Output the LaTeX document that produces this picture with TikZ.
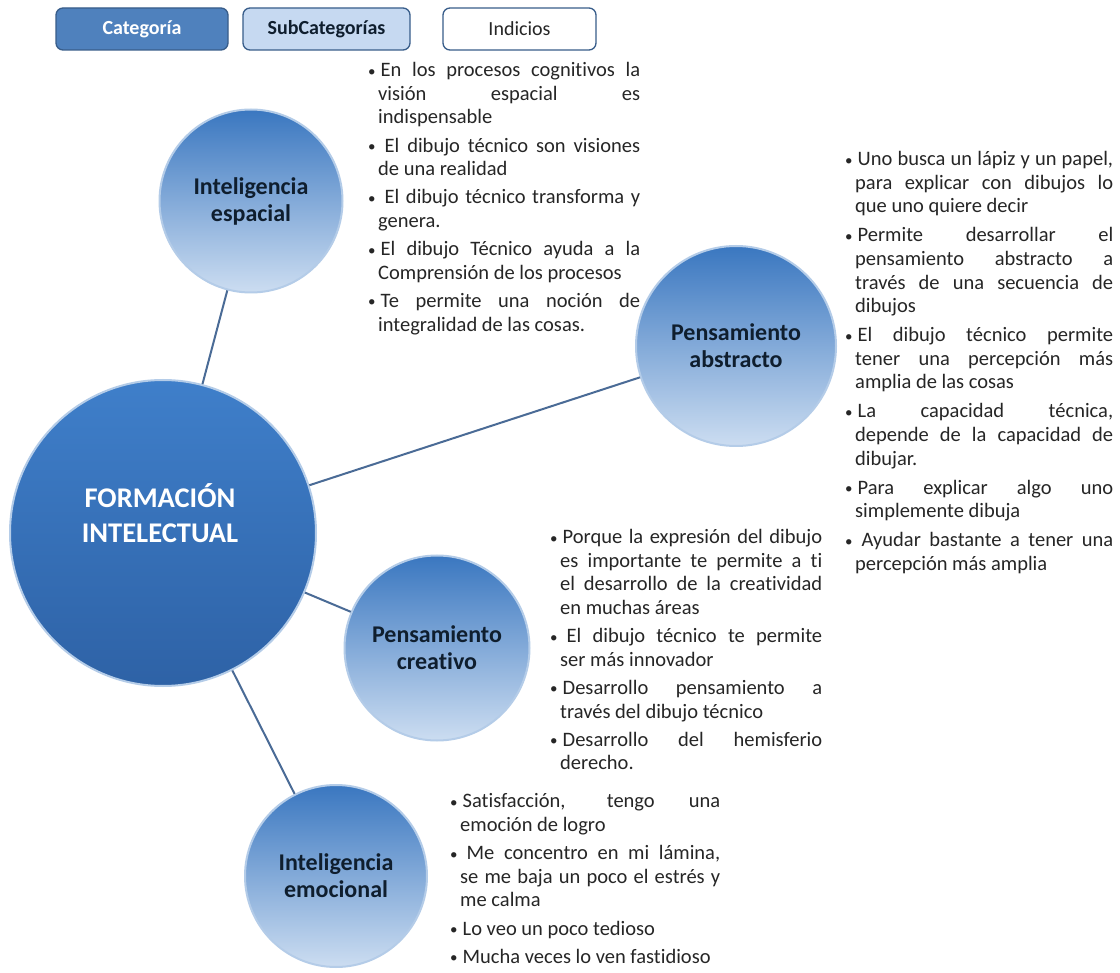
\documentclass[tikz,border=0pt]{standalone}
\usepackage{fontspec}
\setmainfont{Carlito}[Ligatures=NoCommon]
\definecolor{catfill}{HTML}{4F81BD}
\definecolor{catdraw}{HTML}{385D8A}
\definecolor{subfill}{HTML}{C6D9F1}
\definecolor{linecol}{HTML}{4A6B96}
\definecolor{txtcol}{HTML}{262626}
\definecolor{circtop}{HTML}{3A77C0}
\definecolor{circbot}{HTML}{CCDDF1}
\definecolor{maintop}{HTML}{3F7FCA}
\definecolor{mainbot}{HTML}{2E62A6}
\definecolor{rimcol}{HTML}{B4CCE8}
\definecolor{navytxt}{HTML}{0F1E2E}
\newenvironment{bulletlist}[1][4.6pt]{\begin{list}{\raisebox{0.6pt}{\fontsize{15}{15}\selectfont\textbullet}}{\setlength\leftmargin{10pt}\setlength\labelwidth{5pt}\setlength\labelsep{5pt}\setlength\itemsep{#1}\setlength\parsep{0pt}\setlength\topsep{0pt}\setlength\partopsep{0pt}\setlength\itemindent{0pt}}\tolerance=10000 \hyphenpenalty=10000 \exhyphenpenalty=10000}{\end{list}}
\begin{document}
\begin{tikzpicture}[x=1pt,y=-1pt,
  legbox/.style={draw=catdraw, line width=1.3pt, rounded corners=7pt, minimum height=42pt, inner sep=0pt, font=\fontsize{20}{23}\selectfont},
  subcirc/.style={circle, inner sep=0pt, top color=circtop, bottom color=circbot, draw=rimcol, line width=2pt, text=navytxt, font=\bfseries\fontsize{24}{27}\selectfont, align=center},
  maincirc/.style={circle, inner sep=0pt, top color=maintop, bottom color=mainbot, draw=rimcol, line width=2pt},
  conn/.style={draw=linecol, line width=2pt},
  block/.style={anchor=north west, inner sep=0pt, text=txtcol, align=justify, font=\fontsize{20.5}{23.6}\selectfont}
]
\useasboundingbox (0,0) rectangle (1120,973);
\fill[white] (0,0) rectangle (1120,973);

% legend
\node[legbox, fill=catfill, text=white, minimum width=172pt, font=\bfseries\fontsize{20}{23}\selectfont] (cat) at (142,29) {Categoría};
\node[legbox, fill=subfill, text=navytxt, minimum width=167pt, font=\bfseries\fontsize{20}{23}\selectfont] (sub) at (326.5,29) {SubCategorías};
\node[legbox, fill=white, text=txtcol, minimum width=153pt] (ind) at (519.5,29) {Indicios};

% circles
\node[maincirc, minimum size=306pt] (main) at (163,533) {};
\node[text=white, font=\bfseries\fontsize{28.5}{35}\selectfont, align=center] (maintitle) at (160,513) {FORMACIÓN\\INTELECTUAL};
\node[subcirc, minimum size=183pt] (esp) at (251,201) {Inteligencia\\espacial};
\node[subcirc, minimum size=200pt] (abs) at (736,346) {Pensamiento\\abstracto};
\node[subcirc, minimum size=185pt] (cre) at (437,648) {Pensamiento\\creativo};
\node[subcirc, minimum size=182pt] (emo) at (336,876) {Inteligencia\\emocional};

% connectors
\draw[conn] (main) -- (esp);
\draw[conn] (main) -- (abs);
\draw[conn] (main) -- (cre);
\draw[conn] (main) -- (emo);

% text blocks
\node[block, text width=272pt] (b1) at (368,53) {\begin{bulletlist}
\item En los procesos cognitivos la\linebreak visión espacial es\linebreak indispensable
\item \hspace{4pt}El dibujo técnico son visiones\linebreak de una realidad
\item \hspace{4pt}El dibujo técnico transforma y\linebreak genera.
\item El dibujo Técnico ayuda a la\linebreak Comprensión de los procesos
\item Te permite una noción de\linebreak integralidad de las cosas.
\end{bulletlist}};

\node[block, text width=268pt] (b2) at (845,142) {\begin{bulletlist}[5.4pt]
\item Uno busca un lápiz y un papel,\linebreak para explicar con dibujos lo\linebreak que uno quiere decir
\item Permite desarrollar el\linebreak pensamiento abstracto a\linebreak través de una secuencia de\linebreak dibujos
\item El dibujo técnico permite\linebreak tener una percepción más\linebreak amplia de las cosas
\item La capacidad técnica,\linebreak depende de la capacidad de\linebreak dibujar.
\item Para explicar algo uno\linebreak simplemente dibuja
\item \hspace{4pt}Ayudar bastante a tener una\linebreak percepción más amplia
\end{bulletlist}};

\node[block, text width=272pt] (b3) at (550,520) {\begin{bulletlist}
\item Porque la expresión del dibujo\linebreak es importante te permite a ti\linebreak el desarrollo de la creatividad\linebreak en muchas áreas
\item \hspace{4pt}El dibujo técnico te permite\linebreak ser más innovador
\item Desarrollo pensamiento a\linebreak través del dibujo técnico
\item Desarrollo del hemisferio\linebreak derecho.
\end{bulletlist}};

\node[block, text width=270pt] (b4) at (450,784) {\begin{bulletlist}
\item Satisfacción, tengo una\linebreak emoción de logro
\item \hspace{4pt}Me concentro en mi lámina,\linebreak se me baja un poco el estrés y\linebreak me calma
\item Lo veo un poco tedioso
\item Mucha veces lo ven fastidioso
\end{bulletlist}};
\end{tikzpicture}
\end{document}
